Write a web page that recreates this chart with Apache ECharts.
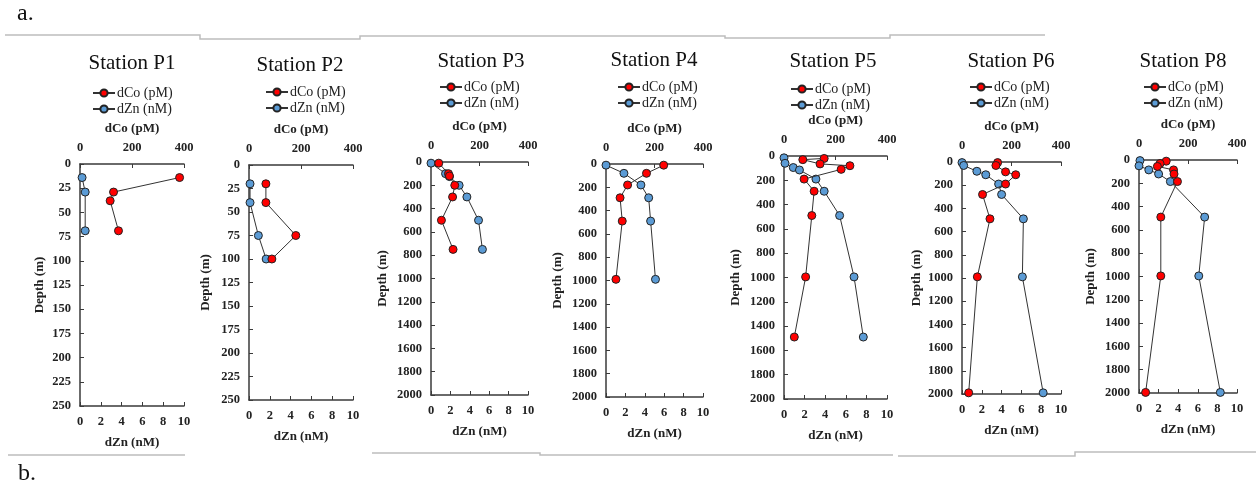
<!DOCTYPE html>
<html>
<head>
<meta charset="utf-8">
<script src="https://cdn.jsdelivr.net/npm/echarts@6/dist/echarts.min.js"></script>
<style>
html,body{margin:0;padding:0;background:#fff;}
#chart{width:1256px;height:487px;}
</style>
</head>
<body>
<div id="chart"></div>
<script>
// ---------- data ----------
const stationNames = ['Station P1','Station P2','Station P3','Station P4','Station P5','Station P6','Station P8'];
const depthMax  = [250, 250, 2000, 2000, 2000, 2000, 2000];
const depthStep = [25, 25, 200, 200, 200, 200, 200];
const coTicks = [0, 200, 400];
const znTicks = [0, 2, 4, 6, 8, 10];

// Station P1
const p1CoDepth = [14, 29, 38, 69];
const p1Co      = [383, 129, 116, 148];
const p1ZnDepth = [14, 29, 69];
const p1Zn      = [0.2, 0.5, 0.5];
// Station P2
const p2CoDepth = [20, 40, 75, 100];
const p2Co      = [65, 65, 180, 88];
const p2ZnDepth = [20, 40, 75, 100];
const p2Zn      = [0.1, 0.1, 0.9, 1.65];
// Station P3
const p3CoDepth = [10, 100, 120, 200, 300, 500, 750];
const p3Co      = [32, 72, 76, 98, 89, 43, 91];
const p3ZnDepth = [10, 100, 125, 200, 300, 500, 750];
const p3Zn      = [0, 1.5, 1.9, 2.9, 3.7, 4.9, 5.3];
// Station P4
const p4CoDepth = [10, 80, 180, 290, 490, 990];
const p4Co      = [238, 167, 89, 58, 67, 41];
const p4ZnDepth = [10, 80, 180, 290, 490, 990];
const p4Zn      = [0, 1.85, 3.6, 4.4, 4.6, 5.1];
// Station P5
const p5CoDepth = [20, 30, 65, 80, 110, 190, 290, 490, 995, 1490];
const p5Co      = [156, 73, 140, 256, 222, 78, 117, 108, 84, 40];
const p5ZnDepth = [15, 60, 95, 115, 190, 290, 490, 995, 1490];
const p5Zn      = [0, 0.1, 0.9, 1.5, 3.1, 3.9, 5.4, 6.8, 7.7];
// Station P6
const p6CoDepth = [5, 30, 85, 110, 190, 280, 490, 990, 1990];
const p6Co      = [144, 137, 176, 217, 176, 83, 113, 62, 27];
const p6ZnDepth = [5, 30, 80, 110, 190, 280, 490, 990, 1990];
const p6Zn      = [0, 0.17, 1.5, 2.4, 3.7, 4.0, 6.2, 6.1, 8.2];
// Station P8
const p8CoDepth = [10, 30, 55, 85, 120, 185, 490, 995, 1995];
const p8Co      = [111, 86, 75, 141, 143, 157, 89, 89, 27];
const p8ZnDepth = [5, 50, 85, 120, 185, 490, 995, 1995];
const p8Zn      = [0.1, 0, 1.0, 2.0, 3.2, 6.7, 6.1, 8.3];

const coSets = [[p1Co,p1CoDepth],[p2Co,p2CoDepth],[p3Co,p3CoDepth],[p4Co,p4CoDepth],[p5Co,p5CoDepth],[p6Co,p6CoDepth],[p8Co,p8CoDepth]];
const znSets = [[p1Zn,p1ZnDepth],[p2Zn,p2ZnDepth],[p3Zn,p3ZnDepth],[p4Zn,p4ZnDepth],[p5Zn,p5ZnDepth],[p6Zn,p6ZnDepth],[p8Zn,p8ZnDepth]];

// ---------- layout (pixels) ----------
const layout = [
  {l:80,  t:164, w:104, h:242, tx:132,  ty:65, lx:92,   ly:93, dg:34},
  {l:249, t:165, w:104, h:235, tx:300,  ty:67, lx:265,  ly:92, dg:37},
  {l:431, t:162, w:97,  h:233, tx:481,  ty:63, lx:439,  ly:87, dg:42},
  {l:606, t:164, w:97,  h:233, tx:654,  ty:62, lx:617,  ly:87, dg:42},
  {l:784, t:156, w:103, h:243, tx:833,  ty:63, lx:790,  ly:89, dg:42},
  {l:962, t:162, w:99,  h:232, tx:1011, ty:63, lx:969,  ly:87, dg:39},
  {l:1139,t:160, w:98,  h:233, tx:1183, ty:63, lx:1143, ly:87, dg:42}
];

const SERIF = '"Liberation Serif", "DejaVu Serif", serif';
const axisLineStyle = {color:'#3a3a3a', width:1.5};
const plain = v => String(v);
const tickLabel = {fontFamily:SERIF, fontWeight:'bold', fontSize:12.5, color:'#222', formatter:plain};
const nameStyle = {fontFamily:SERIF, fontWeight:'bold', fontSize:13, color:'#222'};

const grids = [], xAxes = [], yAxes = [], series = [], titles = [], legends = [];
layout.forEach((L, i) => {
  grids.push({left:L.l, top:L.t, width:L.w, height:L.h, containLabel:false});
  xAxes.push({
    gridIndex:i, type:'value', position:'top', min:coTicks[0], max:coTicks[coTicks.length-1], interval:coTicks[1]-coTicks[0],
    axisLine:{show:true, onZero:false, lineStyle:axisLineStyle},
    axisTick:{show:true, inside:true, length:4, lineStyle:{color:'#3a3a3a', width:1}},
    axisLabel:Object.assign({margin:10}, tickLabel),
    splitLine:{show:false},
    name:'dCo (pM)', nameLocation:'middle', nameGap:29, nameTextStyle:nameStyle
  });
  xAxes.push({
    gridIndex:i, type:'value', position:'bottom', min:znTicks[0], max:znTicks[znTicks.length-1], interval:znTicks[1]-znTicks[0],
    axisLine:{show:true, onZero:false, lineStyle:axisLineStyle},
    axisTick:{show:true, inside:true, length:4, lineStyle:{color:'#3a3a3a', width:1}},
    axisLabel:Object.assign({margin:9}, tickLabel),
    splitLine:{show:false},
    name:'dZn (nM)', nameLocation:'middle', nameGap:30, nameTextStyle:nameStyle
  });
  yAxes.push({
    gridIndex:i, type:'value', inverse:true, min:0, max:depthMax[i], interval:depthStep[i],
    axisLine:{show:true, onZero:false, lineStyle:axisLineStyle},
    axisTick:{show:true, inside:true, length:4, lineStyle:{color:'#3a3a3a', width:1}},
    axisLabel:Object.assign({margin:9}, tickLabel),
    splitLine:{show:false},
    name:'Depth (m)', nameLocation:'middle', nameGap:L.dg, nameRotate:90, nameTextStyle:nameStyle
  });
  const co = coSets[i][0].map((v, k) => [v, coSets[i][1][k]]);
  const zn = znSets[i][0].map((v, k) => [v, znSets[i][1][k]]);
  series.push({
    name:'dCo (pM)', type:'line', xAxisIndex:2*i, yAxisIndex:i, data:co,
    symbol:'circle', symbolSize:8, clip:false, showAllSymbol:true,
    lineStyle:{color:'#333', width:1},
    itemStyle:{color:'#FF0000', borderColor:'#222', borderWidth:1}, z:3
  });
  series.push({
    name:'dZn (nM)', type:'line', xAxisIndex:2*i+1, yAxisIndex:i, data:zn,
    symbol:'circle', symbolSize:8, clip:false, showAllSymbol:true,
    lineStyle:{color:'#333', width:1},
    itemStyle:{color:'#5B9BD5', borderColor:'#222', borderWidth:1}, z:2
  });
  titles.push({
    text:stationNames[i], left:L.tx, top:L.ty-12, textAlign:'center', padding:0,
    textStyle:{fontFamily:SERIF, fontSize:21, fontWeight:'normal', color:'#111'}
  });
  legends.push({
    orient:'vertical', left:L.lx, top:L.ly-8, padding:0, itemGap:0, itemWidth:22, itemHeight:9,
    selectedMode:false, data:['dCo (pM)','dZn (nM)'],
    textStyle:{fontFamily:SERIF, fontSize:14, color:'#222', lineHeight:16, padding:[0,0,0,-3]}
  });
});

const gray = {stroke:'#bdbdbd', lineWidth:1.5};
const graphic = [
  {type:'text', left:17, top:2, style:{text:'a.', fontFamily:SERIF, fontSize:24, fill:'#111'}},
  {type:'text', left:18, top:462, style:{text:'b.', fontFamily:SERIF, fontSize:24, fill:'#111'}},
  {type:'polyline', shape:{points:[[5,35],[200,35],[200,39],[360,39],[360,36],[725,36],[725,38],[890,38],[890,35],[1045,35]]}, style:gray},
  {type:'line', shape:{x1:8, y1:455, x2:185, y2:455}, style:gray},
  {type:'polyline', shape:{points:[[372,453],[540,453],[540,455],[893,455]]}, style:gray},
  {type:'polyline', shape:{points:[[898,456],[1075,456],[1075,452],[1256,452]]}, style:gray}
];

const chart = echarts.init(document.getElementById('chart'), null, {renderer:'canvas'});
chart.setOption({
  animation:false,
  backgroundColor:'#fff',
  title:titles,
  legend:legends,
  grid:grids,
  xAxis:xAxes,
  yAxis:yAxes,
  series:series,
  graphic:graphic
});
</script>
</body>
</html>
